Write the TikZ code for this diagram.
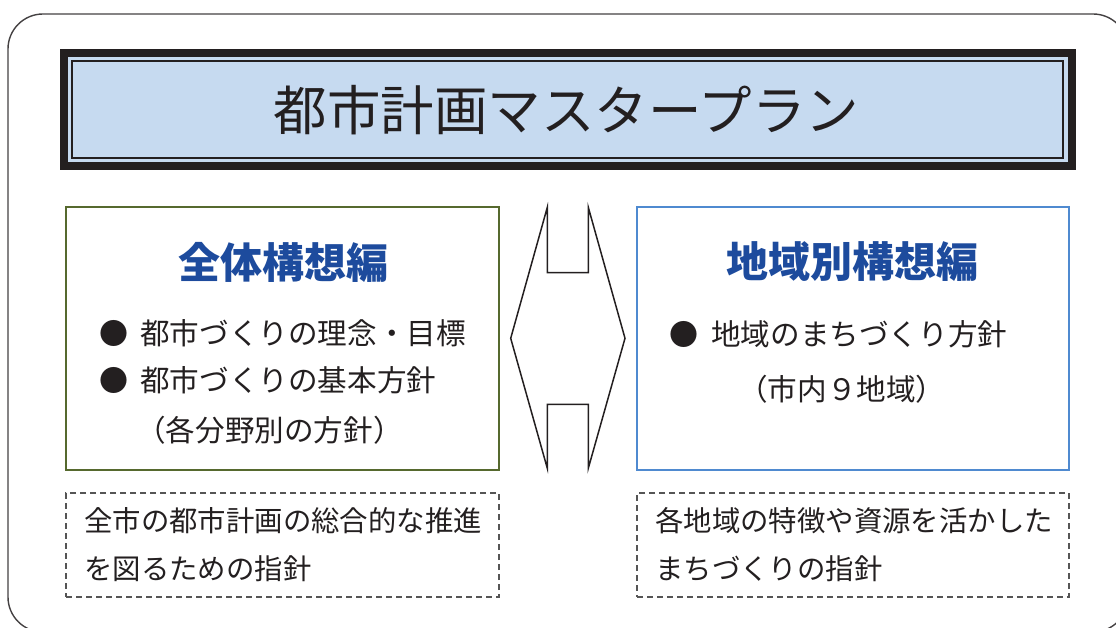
\documentclass[tikz,border=0pt]{standalone}
\usepackage{fontspec}
\newfontfamily\jp{Noto Sans CJK JP}
\definecolor{ink}{HTML}{231F20}
\definecolor{titlefill}{HTML}{C6DAF0}
\definecolor{greenb}{HTML}{56692E}
\definecolor{blueb}{HTML}{4F8AD0}
\definecolor{headblue}{HTML}{1D4B9D}
\definecolor{dashc}{HTML}{555555}
\tikzset{
  panel/.style={draw, line width=2pt, minimum width=#1, minimum height=263pt, inner sep=0pt},
  dashbox/.style={draw=dashc, line width=1.1pt, dash pattern=on 6pt off 4pt, minimum width=#1, minimum height=104pt, inner sep=0pt},
  head/.style={font=\jp\bfseries\fontsize{42}{48}\selectfont, text=headblue, inner sep=0pt},
  body/.style={font=\jp\fontsize{29.6}{34}\selectfont, text=ink, inner sep=0pt, anchor=west},
  note/.style={font=\jp\fontsize{28.4}{34}\selectfont, text=ink, inner sep=0pt, anchor=west},
  bul/.style={font=\jp\fontsize{29}{34}\selectfont, text=ink, inner sep=0pt},
}
\begin{document}
\begin{tikzpicture}[x=1pt,y=-1pt]
\useasboundingbox (0,0) rectangle (1116,628);
% outer rounded frame
\draw[ink!85, line width=1.4pt, rounded corners=35pt] (8,14) rectangle (1128,632);
% title frame
\node[fill=ink, minimum width=1016pt, minimum height=121pt, inner sep=0pt] (tout) at (568,109.5) {};
\node[fill=titlefill, minimum width=1000pt, minimum height=105pt, inner sep=0pt] (tin) at (568,109.5) {};
\node[draw=ink, line width=2.5pt, minimum width=991pt, minimum height=97pt, inner sep=0pt] (tline) at (567.5,109.5) {};
\node[font=\jp\fontsize{53.5}{60}\selectfont, text=ink, inner sep=0pt] (title) at (566.5,110) {都市計画マスタープラン};
% panels
\node[panel=433pt, draw=greenb] (lp) at (282.5,338.5) {};
\node[panel=432pt, draw=blueb] (rp) at (853,338.5) {};
\node[head] (lh) at (283,262) {全体構想編};
\node[head] (rh) at (852.5,262) {地域別構想編};
% left bullets
\node[bul] (lb1) at (114,333) {●};
\node[body] (lt1) at (140,333) {都市づくりの理念・目標};
\node[bul] (lb2) at (114,380) {●};
\node[body] (lt2) at (140,380) {都市づくりの基本方針};
\node[body] (lt3) at (136,430) {（各分野別の方針）};
% right bullets
\node[bul] (rb1) at (684,334) {●};
\node[body] (rt1) at (711,334) {地域のまちづくり方針};
\node[body] (rt2) at (738,389) {（市内９地域）};
% double arrow shape
\draw[ink, line width=1.5pt, line join=miter]
  (510.7,338.3) -- (547.3,207.3) -- (547.3,272.7) -- (588.3,272.7) -- (588.3,207.3)
  -- (625,338.3) -- (588.3,468.3) -- (588.3,404.3) -- (547.3,404.3) -- (547.3,468.3) -- cycle;
% dashed notes
\node[dashbox=433pt] (ld) at (282.5,545) {};
\node[dashbox=432pt] (rd) at (853,545) {};
\node[note] (ln1) at (84,521) {全市の都市計画の総合的な推進};
\node[note] (ln2) at (84,569) {を図るための指針};
\node[note] (rn1) at (655,521) {各地域の特徴や資源を活かした};
\node[note] (rn2) at (655,569) {まちづくりの指針};
\end{tikzpicture}
\end{document}
